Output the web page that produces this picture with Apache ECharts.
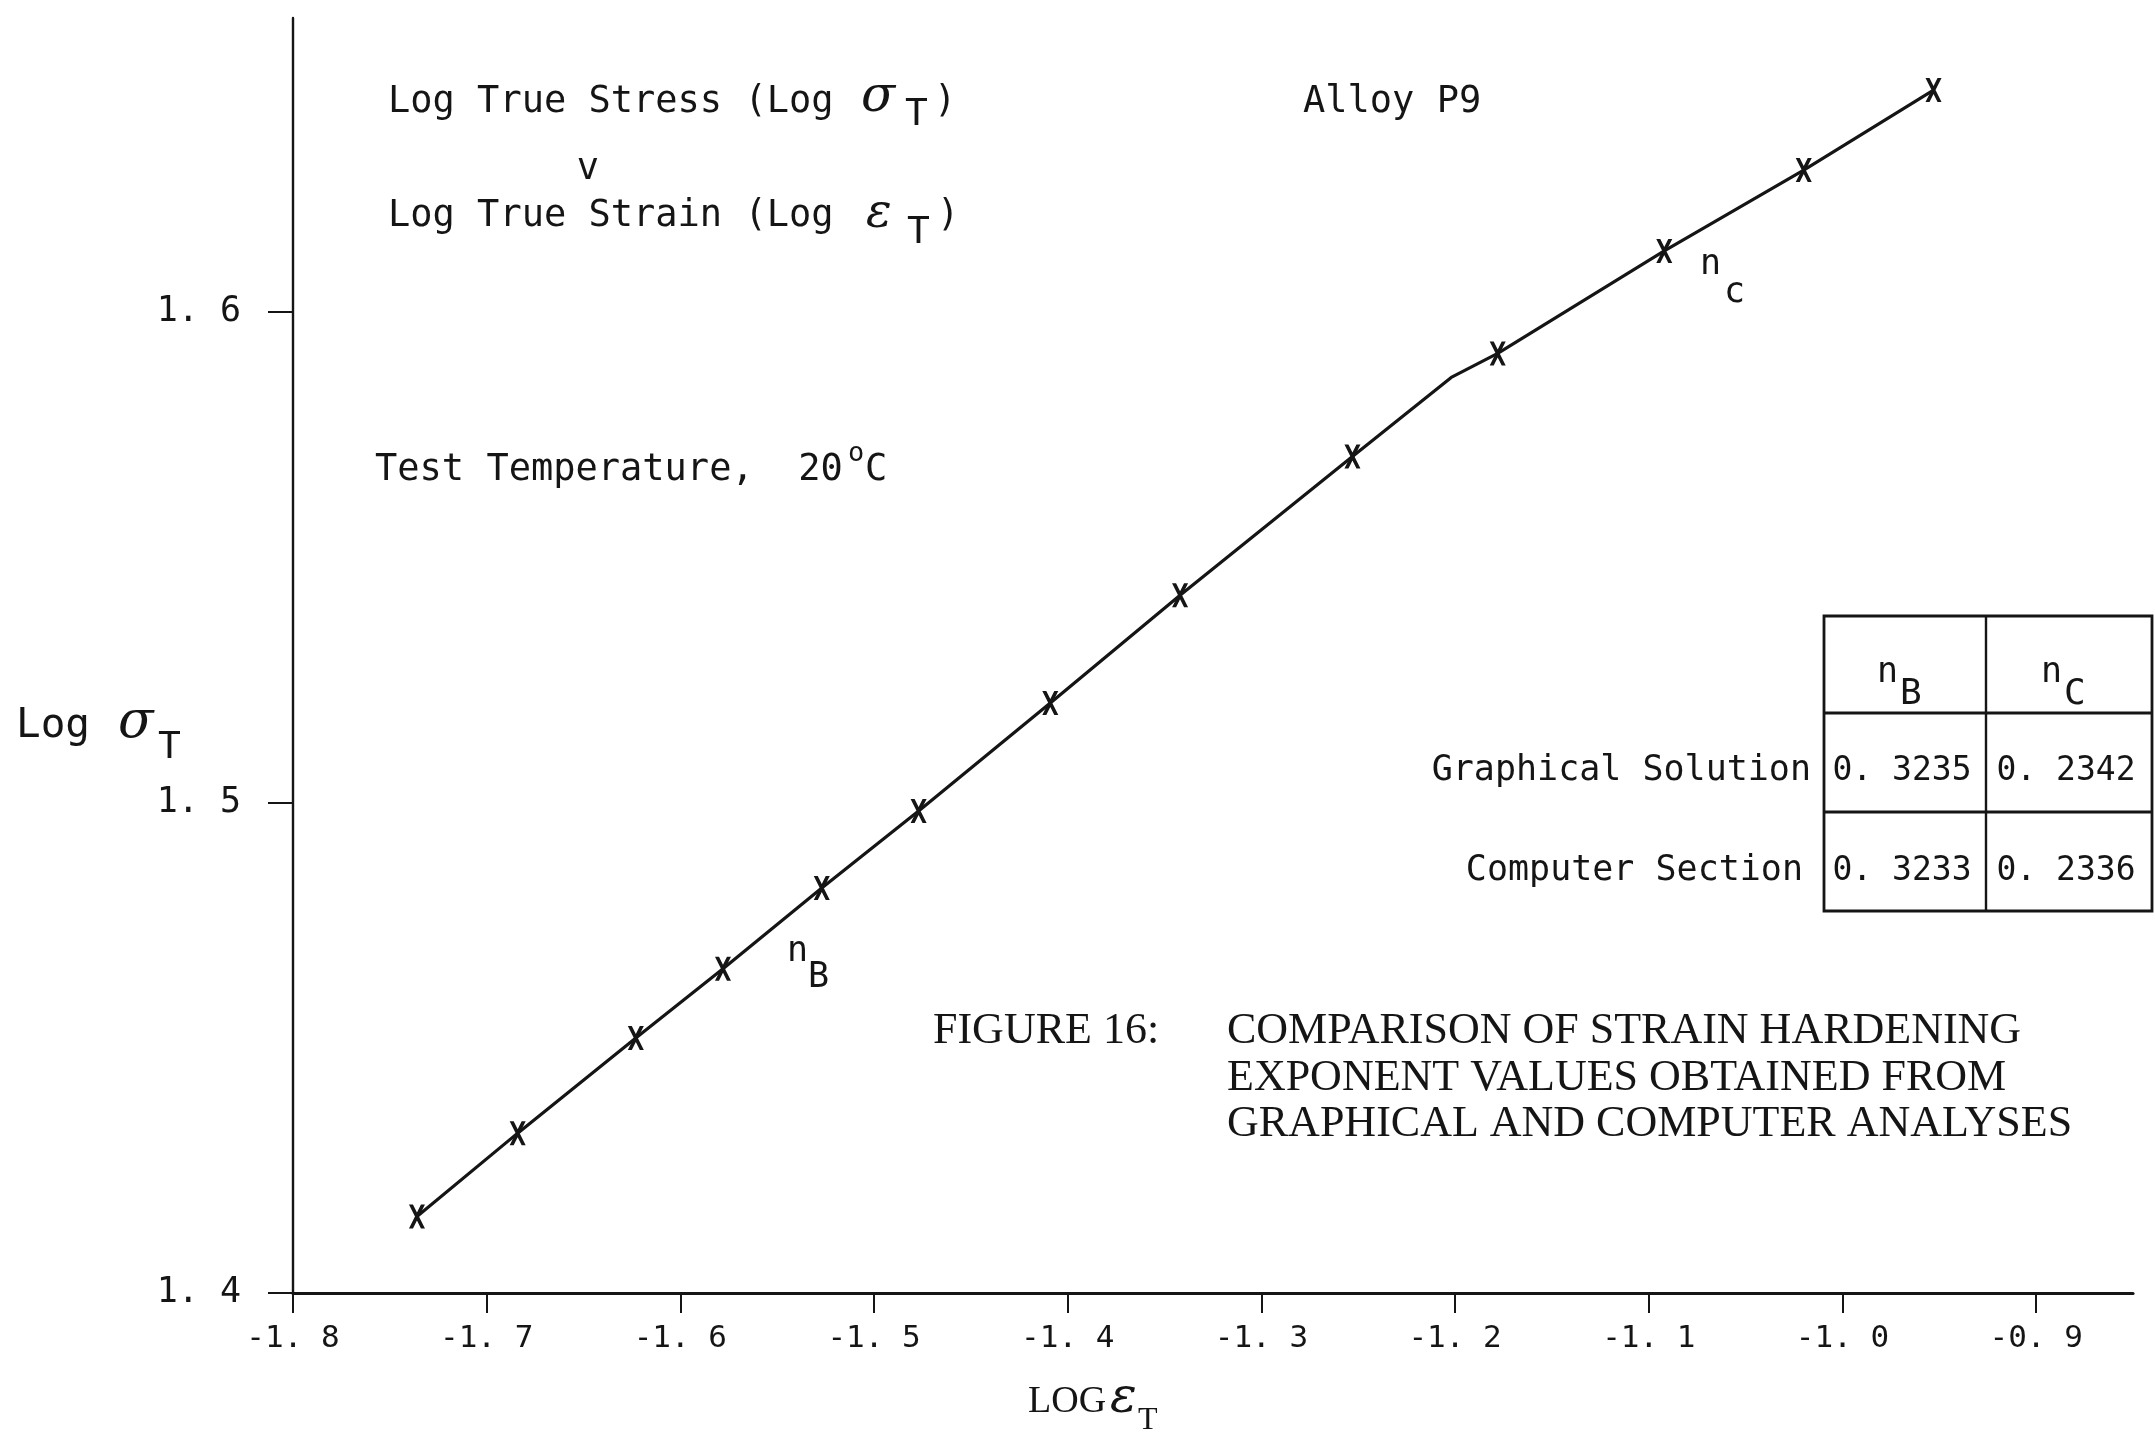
<!DOCTYPE html>
<html><head><meta charset="utf-8">
<script src="https://cdn.jsdelivr.net/npm/echarts@6/dist/echarts.min.js"></script>
<style>html,body{margin:0;padding:0;background:#fff}#c{width:2155px;height:1434px}</style>
</head><body><div id="c"></div>
<script>
// ---- data ----
const logStrain = [-1.736, -1.684, -1.623, -1.578, -1.527, -1.477, -1.409, -1.342, -1.253, -1.202, -1.178, -1.092, -1.020, -0.953];
const logStress = [1.4156, 1.4326, 1.4520, 1.4661, 1.4826, 1.4983, 1.5203, 1.5423, 1.5706, 1.5867, 1.5916, 1.6125, 1.6290, 1.6453];
const hasMarker = [1, 1, 1, 1, 1, 1, 1, 1, 1, 0, 1, 1, 1, 1];
const xTicks = [-1.8, -1.7, -1.6, -1.5, -1.4, -1.3, -1.2, -1.1, -1.0, -0.9];
const yTicks = [1.4, 1.5, 1.6];
const tableCols = ['B', 'C'];
const tableRows = ['Graphical Solution', 'Computer Section'];
const tableValues = [[0.3235, 0.2342], [0.3233, 0.2336]];
const captionLines = ['COMPARISON OF STRAIN HARDENING', 'EXPONENT VALUES OBTAINED FROM', 'GRAPHICAL AND COMPUTER ANALYSES'];

const INK = '#151515';
const MONO = "'DejaVu Sans Mono', monospace";
const SERIF = "'Liberation Serif', serif";
const DSERIF = "'DejaVu Serif', serif";

function fmt(v, d) { return v.toFixed(d).replace('.', '. '); }

function T(x, base, text, size, family, o) {
  o = o || {};
  const al = o.align || 'left';
  return {
    type: 'text', x: x, y: base - 0.3 * size, z: 10, silent: true,
    style: {
      text: text, fontSize: size, fontFamily: family,
      fontStyle: o.italic ? 'italic' : 'normal', fontWeight: o.weight || 'normal',
      fill: INK, align: al, textAlign: al, verticalAlign: 'middle', textVerticalAlign: 'middle'
    }
  };
}

const g = [];
// annotation texts
g.push(T(388, 113, 'Log True Stress (Log', 37, MONO));
g.push(T(861, 113, 'σ', 50, DSERIF, {italic: true}));
g.push(T(905, 127, 'T', 38, MONO));
g.push(T(934, 113, ')', 37, MONO));
g.push(T(588, 180, 'v', 37, MONO, {align: 'center'}));
g.push(T(388, 227, 'Log True Strain (Log', 37, MONO));
g.push(T(866, 229, 'ε', 48, DSERIF, {italic: true}));
g.push(T(907, 245, 'T', 38, MONO));
g.push(T(937, 227, ')', 37, MONO));
g.push(T(1303, 113, 'Alloy P9', 37, MONO));
g.push(T(375, 481, 'Test Temperature,  20', 37, MONO));
g.push(T(848, 462, 'o', 27, MONO));
g.push(T(865, 481, 'C', 37, MONO));
// y axis title
g.push(T(16, 739, 'Log', 41, MONO));
g.push(T(118, 739, 'σ', 52, DSERIF, {italic: true}));
g.push(T(158, 760, 'T', 38, MONO));
// x axis title
g.push(T(1028, 1413, 'LOG', 38, SERIF));
g.push(T(1110, 1414, 'ε', 50, DSERIF, {italic: true}));
g.push(T(1138, 1430, 'T', 32, SERIF));
// segment labels
g.push(T(787, 962, 'n', 35, MONO));
g.push(T(808, 988, 'B', 35, MONO));
g.push(T(1700, 275, 'n', 35, MONO));
g.push(T(1724, 303, 'c', 35, MONO));
// caption
g.push(T(933, 1045, 'FIGURE 16:', 44, SERIF));
captionLines.forEach(function (s, i) { g.push(T(1227, 1045 + i * 46.5, s, 44, SERIF)); });

// table
const tX = [1824, 1986, 2152];
const tY = [616, 713, 812, 911];
g.push({type: 'rect', z: 5, silent: true, shape: {x: tX[0], y: tY[0], width: tX[2] - tX[0], height: tY[3] - tY[0]},
  style: {fill: 'none', stroke: INK, lineWidth: 2.8}});
g.push({type: 'line', z: 5, silent: true, shape: {x1: tX[1], y1: tY[0], x2: tX[1], y2: tY[3]}, style: {stroke: INK, lineWidth: 2.4}});
g.push({type: 'line', z: 5, silent: true, shape: {x1: tX[0], y1: tY[1], x2: tX[2], y2: tY[1]}, style: {stroke: INK, lineWidth: 2.8}});
g.push({type: 'line', z: 5, silent: true, shape: {x1: tX[0], y1: tY[2], x2: tX[2], y2: tY[2]}, style: {stroke: INK, lineWidth: 2.8}});
tableCols.forEach(function (c, j) {
  const cx = (tX[j] + tX[j + 1]) / 2;
  g.push(T(cx - 28, 683, 'n', 35, MONO));
  g.push(T(cx - 5, 705, c, 36, MONO));
});
const rowBase = [781, 881];
const rowRight = [1811, 1803];
tableRows.forEach(function (r, i) {
  g.push(T(rowRight[i], rowBase[i], r, 35, MONO, {align: 'right'}));
  tableValues[i].forEach(function (v, j) {
    const cx = (tX[j] + tX[j + 1]) / 2;
    g.push(T(cx - 3, rowBase[i], fmt(v, 4), 33, MONO, {align: 'center'}));
  });
});

const seriesData = logStrain.map(function (x, i) {
  const d = {value: [x, logStress[i]]};
  if (!hasMarker[i]) { d.symbol = 'none'; }
  return d;
});

const XMARK = 'path://M0,0 L5,0 L20,30 L15,30 Z M15,0 L20,0 L5,30 L0,30 Z';

const chart = echarts.init(document.getElementById('c'), null, {renderer: 'canvas'});
chart.setOption({
  backgroundColor: '#ffffff',
  animation: false,
  grid: {left: 293, right: 22, top: 18, bottom: 141, containLabel: false},
  xAxis: {
    type: 'value', min: -1.8, max: -0.85,
    splitLine: {show: false},
    axisLine: {show: true, lineStyle: {color: INK, width: 3.2}},
    axisTick: {show: true, inside: false, length: 20, customValues: xTicks, lineStyle: {color: INK, width: 2}},
    axisLabel: {show: true, customValues: xTicks, margin: 30, color: INK, fontFamily: MONO, fontSize: 31,
      formatter: function (v) { return fmt(v, 1); }}
  },
  yAxis: {
    type: 'value', min: 1.4, max: 1.66,
    splitLine: {show: false},
    axisLine: {show: true, lineStyle: {color: INK, width: 2.4}},
    axisTick: {show: true, inside: false, length: 25, customValues: yTicks, lineStyle: {color: INK, width: 2}},
    axisLabel: {show: true, customValues: yTicks, margin: 52, color: INK, fontFamily: MONO, fontSize: 35,
      formatter: function (v) { return fmt(v, 1); }}
  },
  series: [{
    type: 'line', data: seriesData, symbol: XMARK, symbolSize: [16, 24],
    showAllSymbol: true,
    lineStyle: {color: INK, width: 3.2},
    itemStyle: {color: INK},
    z: 3
  }],
  graphic: {elements: g}
});
</script></body></html>
